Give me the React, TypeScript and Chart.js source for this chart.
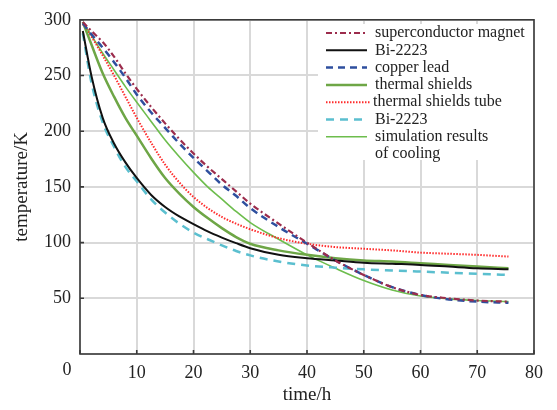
import React, { useEffect, useRef } from "react";
import { Chart, registerables } from "chart.js";

Chart.register(...registerables);

// time axis (h)
const timeH = [0.5, 2, 4, 6, 8, 10, 12.5, 15, 17.5, 20, 22.5, 25, 27.5, 30, 35, 40, 45, 50, 55, 60, 65, 70, 75.5];

// temperature series (K)
const magnetK = [298, 290, 280, 267, 252, 238, 222, 207, 193, 180, 168, 157, 146, 135, 117, 100, 84, 71, 60, 53, 50, 48, 47];
const bi2223K = [290, 250, 212, 189, 172, 158, 143, 132, 123.5, 116.5, 110, 104.5, 99.5, 95, 89, 86, 84, 82, 81, 80, 78.5, 77, 76];
const copperK = [297, 287, 275, 262, 248, 233, 217, 203, 189, 176, 164, 152, 142, 131, 114, 99, 84, 71, 60, 53, 49, 47, 46];
const shieldsK = [298, 278, 252, 231, 212, 196, 176, 158, 144, 132, 122, 113, 105, 99, 93, 89, 86, 84, 83, 81.5, 80, 78.5, 77];
const tubeK = [296, 285, 268, 250, 231, 212, 190, 170, 154, 141, 131, 123, 117, 112, 104, 99, 96, 94.5, 93, 91, 90, 89, 87.5];
const bi2223bK = [288, 244, 208, 186, 168, 155, 139, 127, 117, 109, 103, 97.5, 92.5, 88.5, 83, 79.5, 77.5, 76, 75, 74, 73, 72, 71];
const simK = [298, 286, 270, 255, 240, 226, 209, 192, 177, 163, 150, 139, 128, 118, 103, 89, 77, 66, 57.5, 52, 49.5, 48, 47];

const xTicks = [0, 10, 20, 30, 40, 50, 60, 70, 80];
const yTicks = [50, 100, 150, 200, 250, 300];

const seriesLabels = [
  "superconductor magnet",
  "Bi-2223",
  "copper lead",
  "thermal shields",
  "thermal shields tube",
  "Bi-2223",
  "simulation results\nof cooling",
];

const FONT = "'Liberation Serif', 'Times New Roman', serif";

const toPts = (ys: number[]) => timeH.map((t, i) => ({ x: t, y: ys[i] }));

const framePlugin = {
  id: "frame",
  afterDatasetsDraw(chart: any) {
    const { ctx, chartArea } = chart;
    const xs = chart.scales.x;
    const ys = chart.scales.y;
    ctx.save();
    // legend background
    ctx.fillStyle = "#ffffff";
    ctx.fillRect(318, 24, chartArea.right - 318 - 1, 136);
    // legend entries
    const rowH = 17.3;
    let y = 33;
    chart.data.datasets.forEach((ds: any) => {
      ctx.save();
      ctx.strokeStyle = ds.borderColor;
      ctx.lineWidth = ds.borderWidth;
      ctx.setLineDash(ds.borderDash || []);
      ctx.beginPath();
      ctx.moveTo(326, y);
      ctx.lineTo(ds.legendEnd || 367, y);
      ctx.stroke();
      ctx.restore();
      ctx.fillStyle = "#222";
      ctx.font = `16px ${FONT}`;
      ctx.textBaseline = "middle";
      ctx.textAlign = "left";
      const lines = String(ds.label).split("\n");
      lines.forEach((ln: string) => {
        ctx.fillText(ln, ds.textX || 375, y);
        y += rowH;
      });
    });
    // frame
    ctx.strokeStyle = "#3a3a3a";
    ctx.lineWidth = 1.6;
    ctx.setLineDash([]);
    ctx.strokeRect(chartArea.left, chartArea.top, chartArea.right - chartArea.left, chartArea.bottom - chartArea.top);
    // inward ticks
    ctx.beginPath();
    xTicks.forEach((v) => {
      const px = xs.getPixelForValue(v);
      ctx.moveTo(px, chartArea.bottom);
      ctx.lineTo(px, chartArea.bottom - 4);
    });
    yTicks.forEach((v) => {
      const py = ys.getPixelForValue(v);
      ctx.moveTo(chartArea.left, py);
      ctx.lineTo(chartArea.left + 4, py);
    });
    ctx.stroke();
    // shifted zero label
    ctx.fillStyle = "#222";
    ctx.font = `18px ${FONT}`;
    ctx.textAlign = "center";
    ctx.textBaseline = "middle";
    ctx.fillText("0", 67, 370);
    ctx.restore();
  },
};

export default function App() {
  const ref = useRef<HTMLCanvasElement | null>(null);
  useEffect(() => {
    if (!ref.current) return;
    const mk = (i: number, data: number[], color: string, width: number, dash: number[], extra: any = {}) => ({
      label: seriesLabels[i],
      data: toPts(data),
      borderColor: color,
      borderWidth: width,
      borderDash: dash,
      pointRadius: 0,
      fill: false,
      cubicInterpolationMode: "monotone",
      ...extra,
    });
    const chart = new Chart(ref.current, {
      type: "line",
      data: {
        datasets: [
          mk(0, magnetK, "#9c2c4c", 2.2, [6, 3, 2, 3]),
          mk(1, bi2223K, "#111111", 2, []),
          mk(2, copperK, "#2e4f9e", 2.5, [7, 5]),
          mk(3, shieldsK, "#6ea646", 2.5, []),
          mk(4, tubeK, "#ff2b2b", 2, [1.5, 1.5], { legendEnd: 370, textX: 373 }),
          mk(5, bi2223bK, "#5bbfcf", 2.5, [8, 6]),
          mk(6, simK, "#6dbd4d", 1.6, []),
        ] as any,
      },
      options: {
        animation: false,
        responsive: false,
        maintainAspectRatio: false,
        layout: { padding: { top: 16, right: 23, left: 0, bottom: 0 } },
        plugins: { legend: { display: false }, tooltip: { enabled: false } },
        scales: {
          x: {
            type: "linear",
            min: 0,
            max: 80,
            afterFit: (s: any) => {
              s.height = 56;
            },
            afterBuildTicks: (s: any) => {
              s.ticks = xTicks.map((v) => ({ value: v }));
            },
            ticks: {
              font: { family: FONT, size: 18 },
              color: "#222",
              padding: 8,
              maxRotation: 0,
              autoSkip: false,
              callback: (v: any) => (v === 0 ? "" : String(v)),
            },
            grid: { color: "#d9d9d9", lineWidth: 2, drawTicks: false },
            border: { display: false },
            title: {
              display: true,
              text: "time/h",
              font: { family: FONT, size: 19 },
              color: "#222",
              padding: { top: 0, bottom: 4 },
            },
          },
          y: {
            type: "linear",
            min: 0,
            max: 300,
            afterFit: (s: any) => {
              s.width = 80;
            },
            afterBuildTicks: (s: any) => {
              s.ticks = [0, ...yTicks].map((v) => ({ value: v }));
            },
            ticks: {
              font: { family: FONT, size: 18 },
              color: "#222",
              padding: 9,
              callback: (v: any) => (v === 0 ? "" : String(v)),
            },
            grid: { color: "#d9d9d9", lineWidth: 2, drawTicks: false },
            border: { display: false },
            title: {
              display: true,
              text: "temperature/K",
              font: { family: FONT, size: 19 },
              color: "#222",
              padding: { top: 11, bottom: 0 },
            },
          },
        },
      },
      plugins: [framePlugin],
    });
    return () => chart.destroy();
  }, []);
  return (
    <div style={{ position: "fixed", left: 0, top: 0, width: 557, height: 410, background: "#fff" }}>
      <canvas ref={ref} width={557} height={410} style={{ width: 557, height: 410, display: "block" }} />
    </div>
  );
}
